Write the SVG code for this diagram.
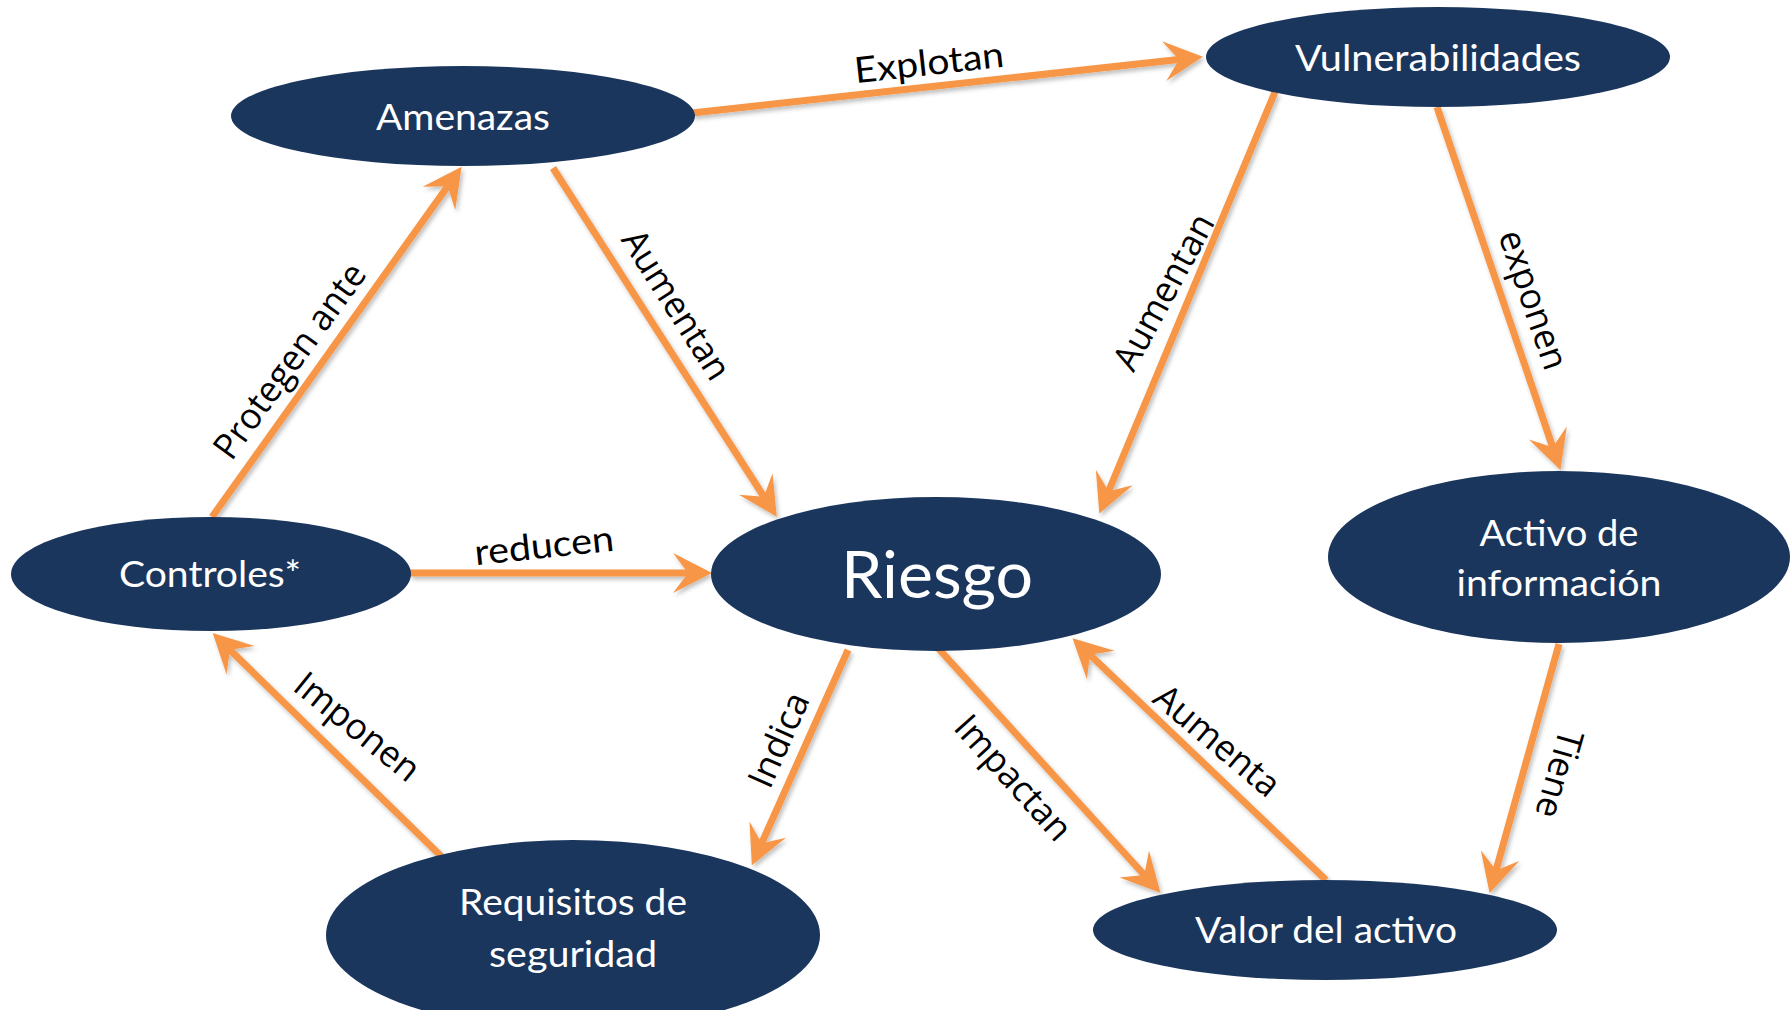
<svg xmlns="http://www.w3.org/2000/svg" width="1790" height="1010" viewBox="0 0 1790 1010">
<style>
.node{fill:#1B365D}
.nt{font-family:Lato,"Liberation Sans",sans-serif;fill:#fff;text-anchor:middle}
.edge{stroke:#F79646;stroke-width:7;fill:none;marker-end:url(#ah)}
.lbl{font-family:"Open Sans","Liberation Sans",sans-serif;font-size:36px;fill:#000;text-anchor:middle}
.lbl2{font-family:Lato,"Liberation Sans",sans-serif;font-size:36px;fill:#000;text-anchor:middle}
</style>
<defs>
<marker id="ah" markerUnits="userSpaceOnUse" viewBox="-22 -22 44 44" markerWidth="44" markerHeight="44" refX="0" refY="0" orient="auto">
<path d="M20,0 L-19,-20 L-4,0 L-19,20 Z" fill="#F79646"/>
</marker>
<filter id="sh" filterUnits="userSpaceOnUse" x="0" y="0" width="1790" height="1010">
<feDropShadow dx="2" dy="3" stdDeviation="2" flood-color="#000" flood-opacity="0.25"/>
</filter>
</defs>
<rect width="1790" height="1010" fill="#fff"/>

<g id="connectors" filter="url(#sh)">
<line class="edge" x1="692" y1="113" x2="1183" y2="59"/>
<line class="edge" x1="553" y1="168" x2="766" y2="500"/>
<line class="edge" x1="212" y1="517" x2="450" y2="183"/>
<line class="edge" x1="410" y1="573" x2="692" y2="573"/>
<line class="edge" x1="848" y1="650" x2="760" y2="847"/>
<line class="edge" x1="445" y1="860" x2="227" y2="647"/>
<line class="edge" x1="1437" y1="107" x2="1554" y2="451"/>
<line class="edge" x1="1275" y1="92" x2="1107" y2="495"/>
<line class="edge" x1="938" y1="648" x2="1147" y2="878"/>
<line class="edge" x1="1326" y1="880" x2="1087" y2="652"/>
<line class="edge" x1="1559" y1="644" x2="1495" y2="874"/>
</g>

<g id="edge-labels">
<text class="lbl2" transform="translate(929,63) rotate(-6.3)" dy="12" textLength="150" lengthAdjust="spacingAndGlyphs">Explotan</text>
<text class="lbl2" transform="translate(544,546) rotate(-6)" dy="12" textLength="140" lengthAdjust="spacingAndGlyphs">reducen</text>
<text class="lbl" transform="translate(290,361) rotate(-54)" dy="12" textLength="232" lengthAdjust="spacingAndGlyphs">Protegen ante</text>
<text class="lbl" transform="translate(676,305) rotate(57.5)" dy="12" textLength="170" lengthAdjust="spacingAndGlyphs">Aumentan</text>
<text class="lbl" transform="translate(1164,292) rotate(-61.5)" dy="12" textLength="172" lengthAdjust="spacingAndGlyphs">Aumentan</text>
<text class="lbl" transform="translate(1533,300) rotate(71)" dy="12" textLength="145" lengthAdjust="spacingAndGlyphs">exponen</text>
<text class="lbl" transform="translate(357,727) rotate(39)" dy="12" textLength="150" lengthAdjust="spacingAndGlyphs">Imponen</text>
<text class="lbl" transform="translate(779,740) rotate(-66)" dy="12" textLength="100" lengthAdjust="spacingAndGlyphs">Indica</text>
<text class="lbl" transform="translate(1013,778) rotate(48)" dy="12" textLength="155" lengthAdjust="spacingAndGlyphs">Impactan</text>
<text class="lbl" transform="translate(1217,741) rotate(40)" dy="12" textLength="152" lengthAdjust="spacingAndGlyphs">Aumenta</text>
<text class="lbl" transform="translate(1559,774) rotate(106)" dy="12" textLength="90" lengthAdjust="spacingAndGlyphs">Tiene</text>
</g>

<g id="amenazas">
<ellipse class="node" cx="463" cy="116" rx="232" ry="50"/>
<text class="nt" x="463" y="130" font-size="37" textLength="174" lengthAdjust="spacingAndGlyphs">Amenazas</text>
</g>
<g id="vulnerabilidades">
<ellipse class="node" cx="1438" cy="57" rx="232" ry="50"/>
<text class="nt" x="1438" y="71" font-size="37" textLength="286" lengthAdjust="spacingAndGlyphs">Vulnerabilidades</text>
</g>
<g id="controles">
<ellipse class="node" cx="211" cy="574" rx="200" ry="57"/>
<text class="nt" x="210" y="587" font-size="37" textLength="182" lengthAdjust="spacingAndGlyphs">Controles*</text>
</g>
<g id="riesgo">
<ellipse class="node" cx="936" cy="574" rx="225" ry="77"/>
<text class="nt" x="937" y="598" font-size="65" textLength="192" lengthAdjust="spacingAndGlyphs">Riesgo</text>
</g>
<g id="activo">
<ellipse class="node" cx="1559" cy="557" rx="231" ry="86"/>
<text class="nt" x="1559" y="546" font-size="37" textLength="159" lengthAdjust="spacingAndGlyphs">Activo de</text>
<text class="nt" x="1559" y="596" font-size="37" textLength="205" lengthAdjust="spacingAndGlyphs">información</text>
</g>
<g id="requisitos">
<ellipse class="node" cx="573" cy="935" rx="247" ry="95"/>
<text class="nt" x="573" y="915" font-size="37" textLength="228" lengthAdjust="spacingAndGlyphs">Requisitos de</text>
<text class="nt" x="573" y="967" font-size="37" textLength="168" lengthAdjust="spacingAndGlyphs">seguridad</text>
</g>
<g id="valor">
<ellipse class="node" cx="1325" cy="930" rx="232" ry="50"/>
<text class="nt" x="1326" y="943" font-size="37" textLength="262" lengthAdjust="spacingAndGlyphs">Valor del activo</text>
</g>
</svg>
